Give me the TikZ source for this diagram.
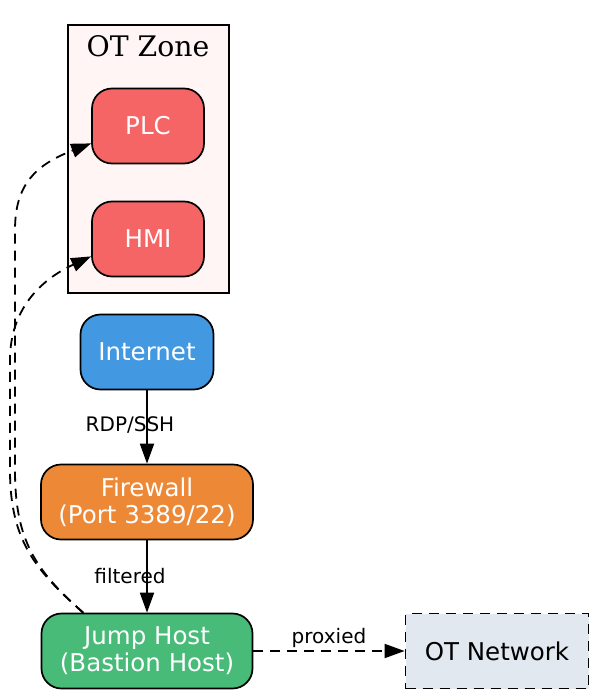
\documentclass[tikz,border=0pt]{standalone}
\usepackage{fontspec}
\setmainfont{DejaVu Sans}
\newfontfamily\zonefont{DejaVu Serif}
\usetikzlibrary{arrows.meta}
\definecolor{plcred}{HTML}{F56565}
\definecolor{netblue}{HTML}{4299E1}
\definecolor{fworange}{HTML}{ED8936}
\definecolor{jumpgreen}{HTML}{48BB78}
\definecolor{otgray}{HTML}{E2E8F0}
\definecolor{zonepink}{HTML}{FFF5F5}
\tikzset{hostbox/.style={draw=black,line width=1.7pt,rounded corners=20pt,minimum height=75pt,inner sep=0pt,text=white,align=center,font=\fontsize{24.5}{27}\selectfont}, netbox/.style={draw=black,line width=1.8pt,dash pattern=on 10pt off 7pt,fill=otgray,minimum height=75pt,minimum width=183pt,inner sep=0pt,font=\fontsize{24.5}{27}\selectfont}, zonebox/.style={draw=black,line width=1.5pt,fill=zonepink}, zonelabel/.style={font=\zonefont\fontsize{28.3}{32}\selectfont,anchor=base}, flow/.style={line width=1.8pt,-{Triangle[length=20pt,width=14pt]}}, flowdash/.style={flow,dash pattern=on 10pt off 7pt}, elabel/.style={font=\fontsize{20}{22}\selectfont,inner sep=2pt}}

\begin{document}
\begin{tikzpicture}[x=1pt,y=-1pt]
\useasboundingbox (0,0) rectangle (598,698);
% OT zone cluster
\draw[zonebox] (68,25) rectangle (229,293);
\node[zonelabel] (zonelbl) at (148,57) {OT Zone};
\node[hostbox,fill=plcred,minimum width=112pt] (plc) at (148,126) {PLC};
\node[hostbox,fill=plcred,minimum width=112pt] (hmi) at (148,239) {HMI};
% access path
\node[hostbox,fill=netblue,minimum width=133pt] (inet) at (147,352) {Internet};
\node[hostbox,fill=fworange,minimum width=212pt] (fw) at (147,502) {Firewall\\(Port 3389/22)};
\node[hostbox,fill=jumpgreen,minimum width=211pt] (jump) at (147,651) {Jump Host\\(Bastion Host)};
\node[netbox] (otnet) at (497,651) {OT Network};
\draw[flow] (inet) -- node[elabel,xshift=-17pt,yshift=2pt] (l1) {RDP/SSH} (fw);
\draw[flow] (fw) -- node[elabel,xshift=-17pt] (l2) {filtered} (jump);
\draw[flowdash] (jump) -- node[elabel,above] (l3) {proxied} (otnet);
\draw[flowdash] (jump.149) .. controls (35,570) and (15,540) .. (15,470) -- (15,230) .. controls (15,185) and (35,165) .. (plc.197);
\draw[flowdash] (jump.149) .. controls (35,570) and (10,540) .. (10,470) -- (10,360) .. controls (10,310) and (40,280) .. (hmi.197);
\end{tikzpicture}
\end{document}
